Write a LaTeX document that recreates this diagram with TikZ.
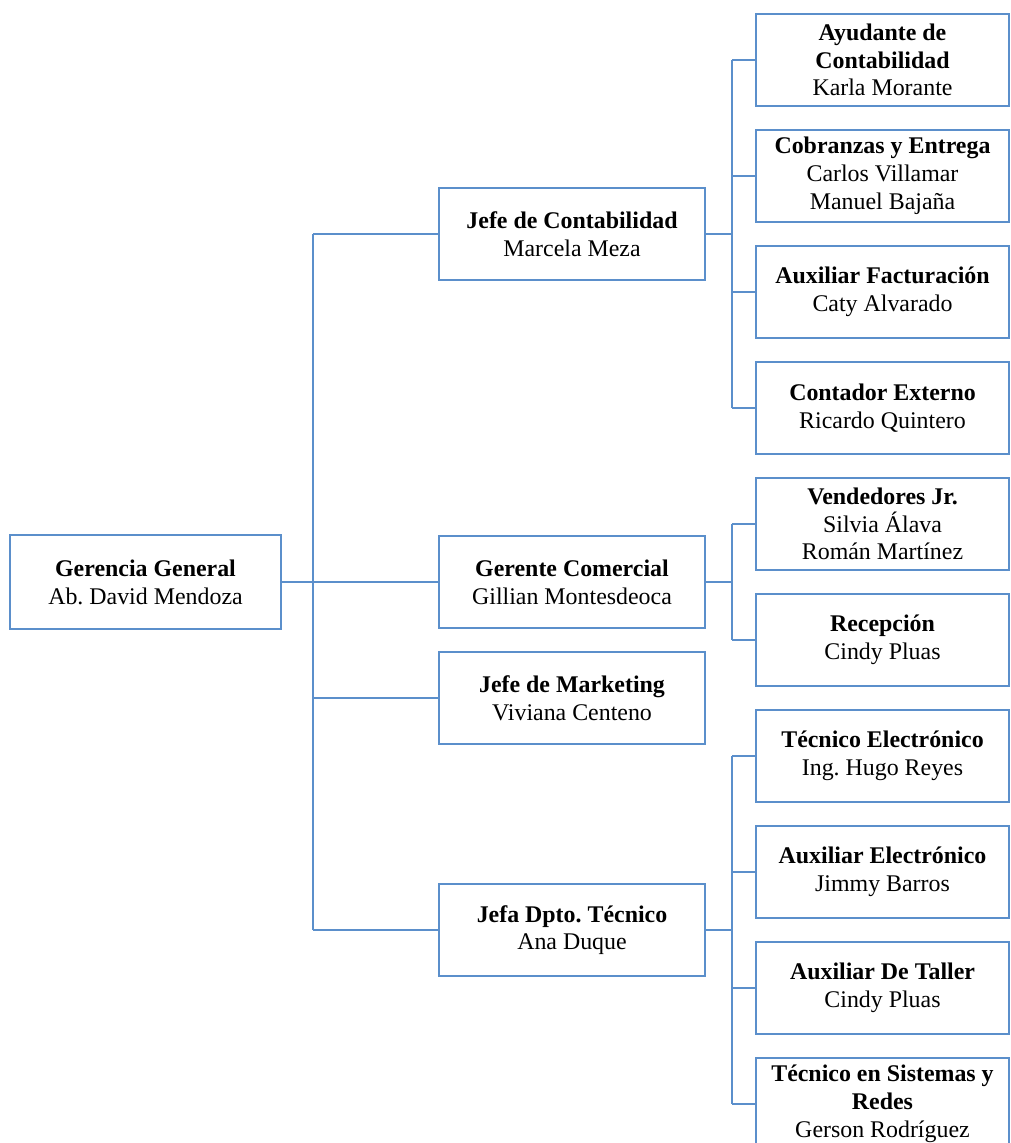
\documentclass[tikz,border=0pt]{standalone}
\usepackage{fontspec}
\setmainfont{Liberation Serif}
\definecolor{orgblue}{HTML}{5B8FCB}

\newcommand*{\trunkx}{313}
\newcommand*{\branchx}{732}

\begin{document}
\begin{tikzpicture}
[
	x=0.02cm,y=-0.02cm,
	box/.style={draw=orgblue,line width=0.9pt,align=center,inner sep=2pt,
		minimum width=5.32cm,minimum height=1.84cm,
		font=\fontsize{13.6}{15.8}\selectfont},
	leaf/.style={box,minimum width=5.06cm},
	link/.style={orgblue,line width=0.9pt}
]
	\clip (0,0) rectangle (1011,1143);
	\fill[white] (0,0) rectangle (1011,1143);

	% head
	\node[box,minimum width=5.42cm,minimum height=1.88cm] (gg) at (145.5,582) {\textbf{Gerencia General}\\Ab.\ David Mendoza};

	% second level
	\node[box] (jc) at (572,234) {\textbf{Jefe de Contabilidad}\\Marcela Meza};
	\node[box] (gc) at (572,582) {\textbf{Gerente Comercial}\\Gillian Montesdeoca};
	\node[box] (jm) at (572,698) {\textbf{Jefe de Marketing}\\Viviana Centeno};
	\node[box] (jt) at (572,930) {\textbf{Jefa Dpto.\ Técnico}\\Ana Duque};

	% third level
	\node[leaf] (ac) at (882.5,60) {\textbf{Ayudante de}\\\textbf{Contabilidad}\\Karla Morante};
	\node[leaf] (ce) at (882.5,176) {\textbf{Cobranzas y Entrega}\\Carlos Villamar\\Manuel Bajaña};
	\node[leaf] (af) at (882.5,292) {\textbf{Auxiliar Facturación}\\Caty Alvarado};
	\node[leaf] (cx) at (882.5,408) {\textbf{Contador Externo}\\Ricardo Quintero};
	\node[leaf] (vj) at (882.5,524) {\textbf{Vendedores Jr.}\\Silvia Álava\\Román Martínez};
	\node[leaf] (rc) at (882.5,640) {\textbf{Recepción}\\Cindy Pluas};
	\node[leaf] (te) at (882.5,756) {\textbf{Técnico Electrónico}\\Ing.\ Hugo Reyes};
	\node[leaf] (ae) at (882.5,872) {\textbf{Auxiliar Electrónico}\\Jimmy Barros};
	\node[leaf] (at) at (882.5,988) {\textbf{Auxiliar De Taller}\\Cindy Pluas};
	\node[leaf] (ts) at (882.5,1104) {\textbf{Técnico en Sistemas y}\\\textbf{Redes}\\Gerson Rodríguez};

	\coordinate (t1) at (\trunkx,0);
	\coordinate (t2) at (\branchx,0);

	% main trunk
	\draw[link] (gg.east) -- (gg.east -| t1);
	\draw[link] (jc.west -| t1) -- (jt.west -| t1);
	\draw[link] (jc.west -| t1) -- (jc.west);
	\draw[link] (gc.west -| t1) -- (gc.west);
	\draw[link] (jm.west -| t1) -- (jm.west);
	\draw[link] (jt.west -| t1) -- (jt.west);

	% contabilidad
	\draw[link] (jc.east) -- (jc.east -| t2);
	\draw[link] (ac.west -| t2) -- (cx.west -| t2);
	\draw[link] (ac.west -| t2) -- (ac.west);
	\draw[link] (ce.west -| t2) -- (ce.west);
	\draw[link] (af.west -| t2) -- (af.west);
	\draw[link] (cx.west -| t2) -- (cx.west);

	% comercial
	\draw[link] (gc.east) -- (gc.east -| t2);
	\draw[link] (vj.west -| t2) -- (rc.west -| t2);
	\draw[link] (vj.west -| t2) -- (vj.west);
	\draw[link] (rc.west -| t2) -- (rc.west);

	% tecnico
	\draw[link] (jt.east) -- (jt.east -| t2);
	\draw[link] (te.west -| t2) -- (ts.west -| t2);
	\draw[link] (te.west -| t2) -- (te.west);
	\draw[link] (ae.west -| t2) -- (ae.west);
	\draw[link] (at.west -| t2) -- (at.west);
	\draw[link] (ts.west -| t2) -- (ts.west);

\end{tikzpicture}
\end{document}
